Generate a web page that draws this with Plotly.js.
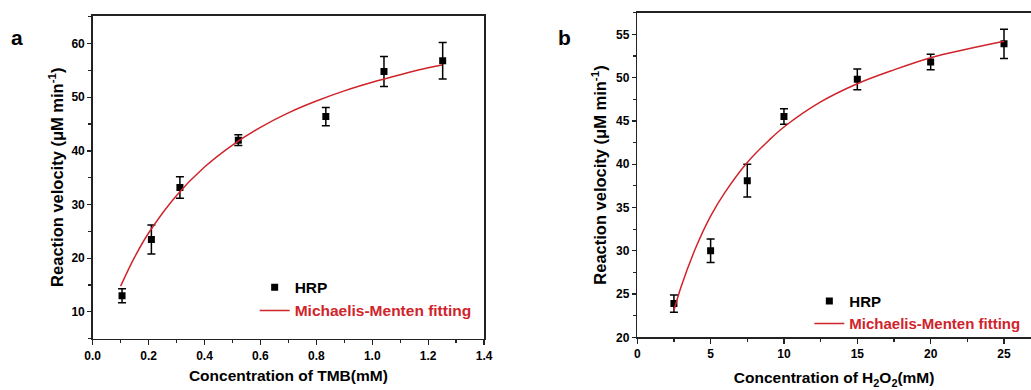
<!DOCTYPE html>
<html>
<head>
<meta charset="utf-8">
<script src="https://cdn.plot.ly/plotly-3.0.1.min.js"></script>
<style>html,body{margin:0;padding:0;background:#fff;}#chart{width:1031px;height:390px;}</style>
</head>
<body>
<div id="chart"></div>
<script>
// Panel a: TMB
const tmbConc = [0.105, 0.21, 0.312, 0.521, 0.834, 1.042, 1.252];
const tmbVel = [13.0, 23.5, 33.2, 42.0, 46.4, 54.8, 56.8];
const tmbErr = [1.3, 2.7, 2.0, 1.0, 1.7, 2.8, 3.4];
const tmbFitConc = [0.1, 0.15, 0.2, 0.3, 0.4, 0.5, 0.6, 0.7, 0.8, 0.9, 1.0, 1.1, 1.2, 1.25];
const tmbFitVel = [14.8, 20.2, 24.7, 31.7, 37.0, 41.1, 44.4, 47.1, 49.3, 51.2, 52.8, 54.2, 55.5, 56.0];

// Panel b: H2O2
const h2o2Conc = [2.5, 5, 7.5, 10, 15, 20, 25];
const h2o2Vel = [23.9, 30.0, 38.1, 45.5, 49.8, 51.8, 53.9];
const h2o2Err = [1.0, 1.35, 1.9, 0.9, 1.2, 0.9, 1.7];
const h2o2FitConc = [2.5, 3, 4, 5, 6, 7.5, 9, 10, 12.5, 15, 17.5, 20, 22.5, 25];
const h2o2FitVel = [23.1, 25.9, 30.4, 34.0, 36.8, 40.2, 42.8, 44.3, 47.2, 49.3, 50.9, 52.3, 53.3, 54.2];

const seriesNames = ['HRP', 'Michaelis-Menten fitting'];
const panelLabels = ['a', 'b'];

const FONT = 'Liberation Sans, Arial, sans-serif';
const RED = '#d0242b';
const AX = '#222';

function pts(x, y, err, xa, ya, leg) {
  return {
    x: x, y: y, xaxis: xa, yaxis: ya, type: 'scatter', mode: 'markers',
    name: seriesNames[0], legend: leg,
    marker: {symbol: 'square', size: 7, color: '#000'},
    error_y: {type: 'data', array: err, visible: true, color: '#000', thickness: 1.5, width: 4}
  };
}
function fit(x, y, xa, ya, leg) {
  return {
    x: x, y: y, xaxis: xa, yaxis: ya, type: 'scatter', mode: 'lines',
    name: '<span style="color:' + RED + '">' + seriesNames[1] + '</span>', legend: leg,
    line: {color: RED, width: 1.5, shape: 'spline', smoothing: 1}
  };
}

const data = [
  pts(tmbConc, tmbVel, tmbErr, 'x', 'y', 'legend'),
  fit(tmbFitConc, tmbFitVel, 'x', 'y', 'legend'),
  pts(h2o2Conc, h2o2Vel, h2o2Err, 'x2', 'y2', 'legend2'),
  fit(h2o2FitConc, h2o2FitVel, 'x2', 'y2', 'legend2')
];

const tickFont = {family: FONT, size: 12, color: '#000', weight: 'bold'};
const xTitleFont = {family: FONT, size: 15.5, color: '#000', weight: 'bold'};
const yTitleFont = {family: FONT, size: 16.5, color: '#000', weight: 'bold'};

function xAxis(domain, range, dtick, minor, fmt, title, anchor, mirror, standoff) {
  return {
    domain: domain, range: range, anchor: anchor, dtick: dtick, tick0: 0,
    tickformat: fmt, showgrid: false, zeroline: false,
    showline: true, linecolor: AX, linewidth: 1.5, mirror: mirror,
    ticks: 'outside', ticklen: 5, tickwidth: 1.2, tickcolor: AX,
    minor: {ticks: 'outside', ticklen: 3, tickwidth: 1.2, tickcolor: AX, dtick: minor, showgrid: false},
    tickfont: tickFont,
    title: {text: title, font: xTitleFont, standoff: standoff}
  };
}
function yAxis(domain, range, tick0, dtick, minor, title, anchor, mirror, standoff) {
  return {
    domain: domain, range: range, anchor: anchor, tick0: tick0, dtick: dtick,
    showgrid: false, zeroline: false,
    showline: true, linecolor: AX, linewidth: 1.5, mirror: mirror,
    ticks: 'outside', ticklen: 4, tickwidth: 1.2, tickcolor: AX,
    minor: {ticks: 'outside', ticklen: 3, tickwidth: 1.2, tickcolor: AX, dtick: minor, tick0: tick0, showgrid: false},
    tickfont: tickFont,
    title: {text: title, font: yTitleFont, standoff: standoff}
  };
}

const layout = {
  width: 1031, height: 390,
  margin: {l: 0, r: 0, t: 0, b: 0},
  paper_bgcolor: '#fff', plot_bgcolor: '#fff',
  showlegend: true,
  xaxis: xAxis([0.0899, 0.4695], [0, 1.4], 0.2, 0.1, '.1f', 'Concentration of TMB(mM)', 'y', true, 8),
  yaxis: yAxis([0.1315, 0.9597], [5, 65.2], 0, 10, 5, 'Reaction velocity (μM min<sup>-1</sup>)', 'x', true, 3),
  xaxis2: xAxis([0.6181, 1.0], [0, 26.84], 5, 2.5, 'd', 'Concentration of H<sub>2</sub>O<sub>2</sub>(mM)', 'y2', true, 12),
  yaxis2: yAxis([0.1351, 0.9674], [20, 57.5], 0, 5, 2.5, 'Reaction velocity (μM min<sup>-1</sup>)', 'x2', false, 5),
  legend: {x: 0.247, y: 0.306, xanchor: 'left', yanchor: 'top', bgcolor: 'rgba(0,0,0,0)', font: {family: FONT, size: 15.5, color: '#000', weight: 'bold'}, tracegroupgap: 0},
  legend2: {x: 0.785, y: 0.270, xanchor: 'left', yanchor: 'top', bgcolor: 'rgba(0,0,0,0)', font: {family: FONT, size: 15, color: '#000', weight: 'bold'}, tracegroupgap: 0},
  annotations: [
    {text: panelLabels[0], xref: 'paper', yref: 'paper', x: 17 / 1031, y: 1 - 38 / 390, xanchor: 'center', yanchor: 'middle', showarrow: false, font: {family: FONT, size: 21, color: '#000', weight: 'bold'}},
    {text: panelLabels[1], xref: 'paper', yref: 'paper', x: 564 / 1031, y: 1 - 38 / 390, xanchor: 'center', yanchor: 'middle', showarrow: false, font: {family: FONT, size: 21, color: '#000', weight: 'bold'}}
  ]
};

Plotly.newPlot('chart', data, layout, {staticPlot: true, displayModeBar: false});
</script>
</body>
</html>
